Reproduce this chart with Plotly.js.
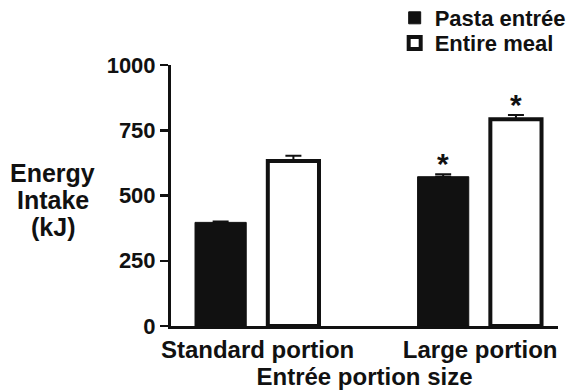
<!DOCTYPE html>
<html>
<head>
<meta charset="utf-8">
<script src="https://cdn.plot.ly/plotly-3.0.1.min.js"></script>
<style>html,body{margin:0;padding:0;background:#fff;}</style>
</head>
<body>
<div id="chart" style="width:569px;height:391px;"></div>
<script>
var categories = ["Standard portion", "Large portion"];
var seriesNames = ["Pasta entrée", "Entire meal"];
var pastaValues = [397, 572];
var pastaErrors = [3, 9];
var mealValues = [632, 792];
var mealErrors = [20, 16];
var significant = { pasta: [false, true], meal: [false, true] };
var yTicks = [0, 250, 500, 750, 1000];
var yTitleLines = ["Energy", "Intake", "(kJ)"];

var FONT = "Liberation Sans, Arial, sans-serif";
var barWidth = 0.23;
var pastaOffset = -0.281;
var mealOffset = 0.046;

var traces = [
  {
    type: "bar", name: seriesNames[0], x: categories, y: pastaValues, legend: "legend",
    width: barWidth, offset: pastaOffset,
    marker: { color: "#111111", line: { color: "#111111", width: 1 } },
    error_y: { type: "data", symmetric: false, array: pastaErrors, arrayminus: pastaErrors.map(function(){return 0;}),
               color: "#111111", thickness: 2, width: 8 }
  },
  {
    type: "bar", name: seriesNames[1], x: categories, y: mealValues, legend: "legend2",
    width: barWidth, offset: mealOffset,
    marker: { color: "#ffffff", line: { color: "#111111", width: 4 } },
    error_y: { type: "data", symmetric: false, array: mealErrors, arrayminus: mealErrors.map(function(){return 0;}),
               color: "#111111", thickness: 2, width: 8 }
  }
];

var annotations = [];
categories.forEach(function(c, i) {
  if (significant.pasta[i]) {
    annotations.push({ x: i + pastaOffset + barWidth / 2, y: pastaValues[i] + pastaErrors[i], xref: "x", yref: "y",
      text: "<b>*</b>", showarrow: false, yanchor: "bottom", yshift: -8, font: { family: FONT, size: 30, color: "#111" } });
  }
  if (significant.meal[i]) {
    annotations.push({ x: i + mealOffset + barWidth / 2, y: mealValues[i] + mealErrors[i], xref: "x", yref: "y",
      text: "<b>*</b>", showarrow: false, yanchor: "bottom", yshift: -8, font: { family: FONT, size: 30, color: "#111" } });
  }
});
yTitleLines.forEach(function(t, k) {
  annotations.push({
    xref: "paper", yref: "paper", x: -0.305, y: 0.0, xanchor: "center", yanchor: "middle",
    yshift: 326 - [173, 200, 227][k],
    text: "<b>" + t + "</b>", showarrow: false,
    font: { family: FONT, size: 25, color: "#111" }
  });
});

var legendBase = {
  x: 0.578, xanchor: "left", yanchor: "middle",
  font: { family: FONT, size: 22, color: "#111", weight: "bold" },
  bgcolor: "rgba(0,0,0,0)"
};

var layout = {
  width: 569, height: 391,
  margin: { l: 171, r: 11, t: 65, b: 65, autoexpand: false },
  paper_bgcolor: "#fff", plot_bgcolor: "#fff",
  showlegend: true,
  legend: Object.assign({}, legendBase, { y: 1.180 }),
  legend2: Object.assign({}, legendBase, { y: 1.084 }),
  xaxis: {
    type: "category", range: [-0.389, 1.35],
    showline: true, linecolor: "#111", linewidth: 3,
    ticks: "", showgrid: false, zeroline: false,
    tickfont: { family: FONT, size: 24, color: "#111", weight: "bold" },
    title: { text: "<b>Entrée portion size</b>", font: { family: FONT, size: 24, color: "#111" }, standoff: 0 }
  },
  yaxis: {
    range: [0, 1000], tickvals: yTicks, ticktext: yTicks.map(String),
    showline: true, linecolor: "#111", linewidth: 3,
    ticks: "outside", ticklen: 8, tickwidth: 2.5, tickcolor: "#111",
    showgrid: false, zeroline: false,
    tickfont: { family: FONT, size: 22, color: "#111", weight: "bold" }
  },
  annotations: annotations
};

Plotly.newPlot("chart", traces, layout, { staticPlot: true, displayModeBar: false });
</script>
</body>
</html>
